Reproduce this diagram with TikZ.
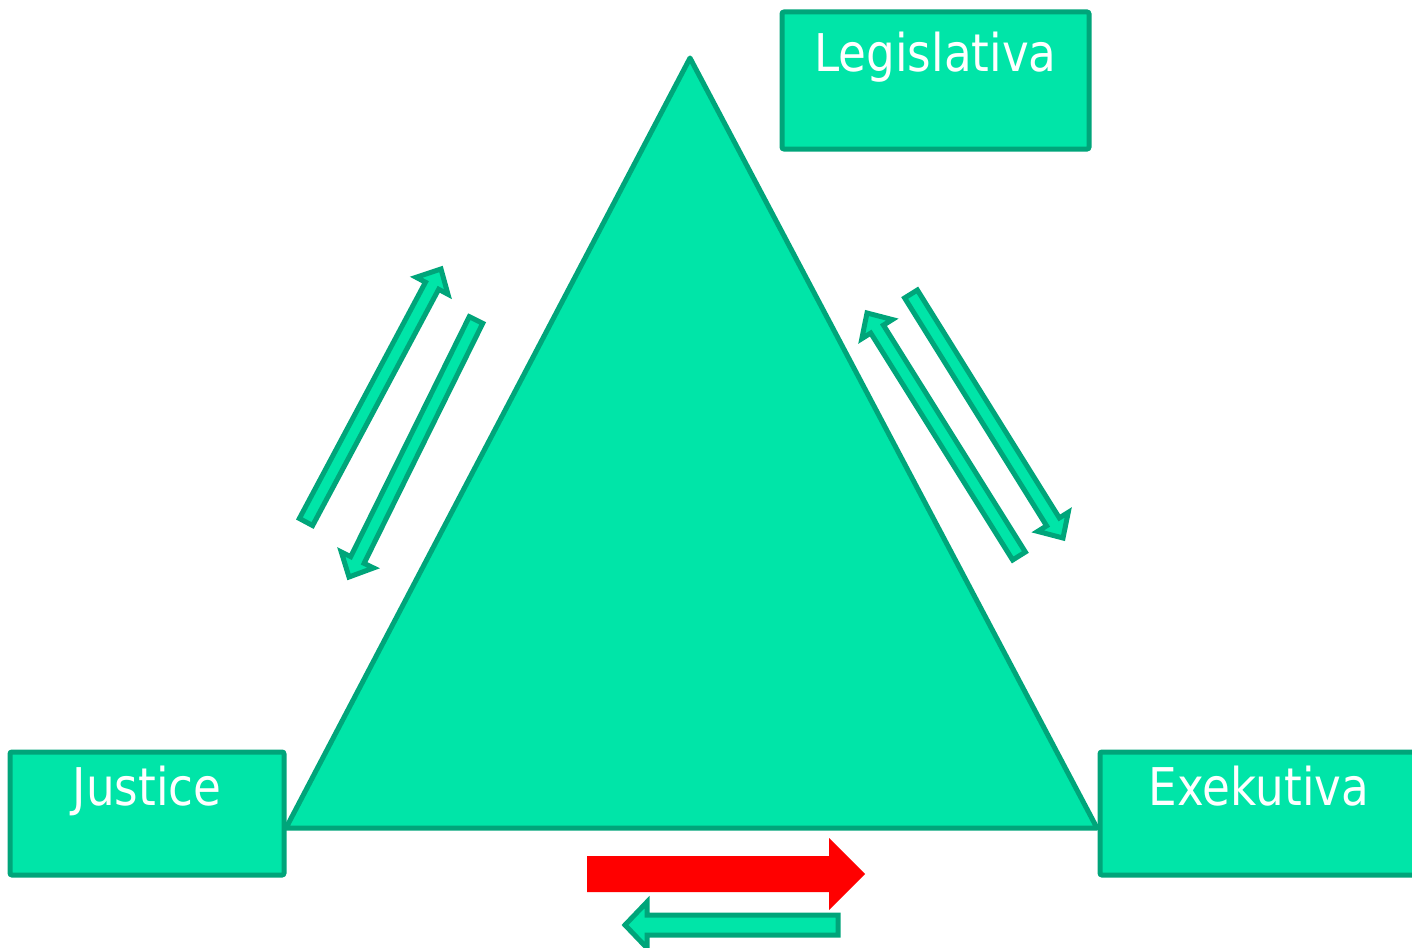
\documentclass[tikz,border=0pt]{standalone}
\usepackage{fontspec}
\setmainfont{DejaVu Sans}[FakeStretch=0.87]
\usetikzlibrary{calc}
\definecolor{tfill}{HTML}{00E5A8}
\definecolor{tline}{HTML}{00A57A}
\tikzset{
  tri/.style={fill=tfill, draw=tline, line width=5pt, line join=round},
  box/.style={rectangle, fill=tfill, draw=tline, line width=5pt, rounded corners=2pt, inner sep=0pt},
  lbl/.style={text=white, font=\fontsize{52}{60}\selectfont, inner sep=0pt, anchor=base},
  garrow/.style={fill=tfill, draw=tline, line width=5pt, line join=miter},
  rarrow/.style={fill=red, draw=none}
}
% #1 tail, #2 tip, #3 half shaft, #4 half head, #5 head length, #6 style
\newcommand{\blockarr}[6]{%
  \coordinate (bb) at ($(#2)!#5!(#1)$);
  \path[#6] ($(#1)!#3!90:(#2)$) -- ($(bb)!#3!90:(#2)$) -- ($(bb)!#4!90:(#2)$) -- (#2)
    -- ($(bb)!#4!-90:(#2)$) -- ($(bb)!#3!-90:(#2)$) -- ($(#1)!#3!-90:(#2)$) -- cycle;
}
\begin{document}
\begin{tikzpicture}[x=1pt, y=-1pt]
\useasboundingbox (0,0) rectangle (1412,947);
% triangle
\coordinate (apex) at (690,58);
\coordinate (bl) at (286,828);
\coordinate (br) at (1097,828);
\draw[tri] (apex) -- (br) -- (bl) -- cycle;
% boxes
\node[box, minimum width=307pt, minimum height=137pt] (leg) at (935.5,80.5) {};
\node[lbl] (legt) at (935.5,72) {Legislativa};
\node[box, minimum width=274pt, minimum height=123pt] (jus) at (147,813.5) {};
\node[lbl] (just) at (147,805) {Justice};
\node[box, minimum width=318pt, minimum height=123pt] (exe) at (1259,813.5) {};
\node[lbl] (exet) at (1259,805) {Exekutiva};
% left arrows
\coordinate (a1t) at (306,522); \coordinate (a1h) at (441,269);
\blockarr{a1t}{a1h}{7.5pt}{18pt}{19pt}{garrow}
\coordinate (a2t) at (476,320); \coordinate (a2h) at (349,577);
\blockarr{a2t}{a2h}{7.5pt}{18pt}{19pt}{garrow}
% right arrows
\coordinate (a3t) at (1019,556); \coordinate (a3h) at (867,313);
\blockarr{a3t}{a3h}{7.5pt}{18pt}{19pt}{garrow}
\coordinate (a4t) at (911,294); \coordinate (a4h) at (1063,538);
\blockarr{a4t}{a4h}{7.5pt}{18pt}{19pt}{garrow}
% bottom arrows
\coordinate (rt) at (587,874); \coordinate (rh) at (865,874);
\blockarr{rt}{rh}{18pt}{36pt}{36pt}{rarrow}
\coordinate (gt) at (838,925); \coordinate (gh) at (625,925);
\blockarr{gt}{gh}{10pt}{23pt}{22pt}{garrow}
\end{tikzpicture}
\end{document}
